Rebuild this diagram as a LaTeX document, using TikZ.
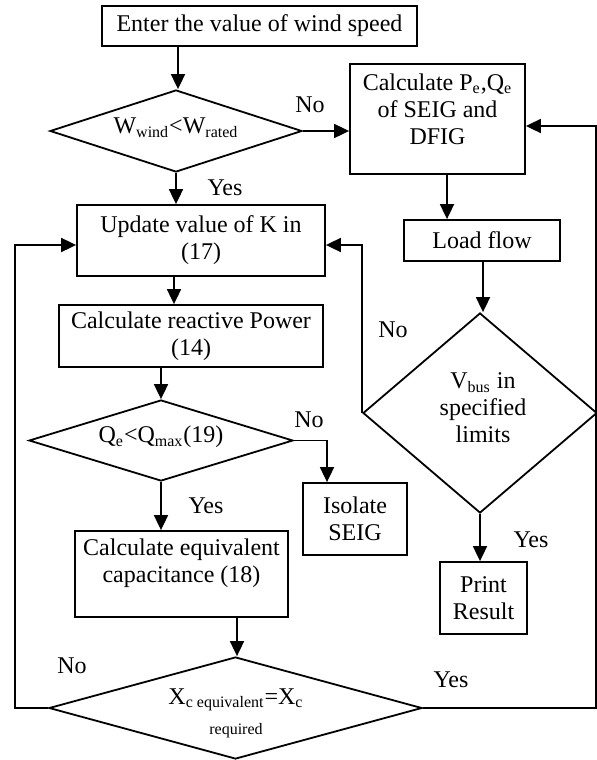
\documentclass[tikz,border=0pt]{standalone}
\usepackage{fontspec}
\setmainfont{Liberation Serif}
\usetikzlibrary{arrows.meta,shapes.geometric}
\begin{document}
\begin{tikzpicture}[x=0.5pt,y=-0.5pt,
  line width=0.9pt,
  box/.style={draw, rectangle, inner sep=0pt, align=center, font=\fontsize{12}{13.5}\selectfont},
  dia/.style={draw, diamond, inner sep=0pt},
  txt/.style={align=center, font=\fontsize{12}{13.5}\selectfont, inner sep=0pt},
  small/.style={align=center, font=\fontsize{8}{9}\selectfont, inner sep=0pt},
  arr/.style={-{Triangle[length=7.5pt,width=7pt]}}
]
\useasboundingbox (0,0) rectangle (597,760);

% boxes
\node[box, minimum width=157.5pt, minimum height=20pt] (top) at (259.5,26) {Enter the value of wind speed};
\node[box, minimum width=87.5pt, minimum height=55pt] (calcpe) at (437.5,119) {};
\node[txt] (calcpetxt) at (437.5,109) {Calculate P\textsubscript{e},Q\textsubscript{e}\\of SEIG and\\DFIG};
\node[box, minimum width=78pt, minimum height=20.5pt] (load) at (482,240.5) {Load flow};
\node[box, minimum width=124pt, minimum height=35.5pt] (upd) at (201,240.5) {Update value of K in\\(17)};
\node[box, minimum width=132pt, minimum height=31pt] (react) at (191,336) {Calculate reactive Power\\(14)};
\node[box, minimum width=52pt, minimum height=36pt] (iso) at (355,519) {Isolate\\SEIG};
\node[box, minimum width=106.5pt, minimum height=43pt] (equiv) at (181.5,574) {};
\node[txt] (equivtxt) at (181.5,563) {Calculate equivalent\\capacitance (18)};
\node[box, minimum width=43.5pt, minimum height=36pt] (print) at (483.5,598) {Print\\Result};

% diamonds
\node[dia, minimum width=126pt, minimum height=41pt] (d1) at (176,131) {};
\node[txt] (d1txt) at (176,128) {W\textsubscript{wind}<W\textsubscript{rated}};
\node[dia, minimum width=132pt, minimum height=40.5pt] (dq) at (161,440.5) {};
\node[txt] (dqtxt) at (161,437) {Q\textsubscript{e}<Q\textsubscript{max}(19)};
\node[dia, minimum width=117pt, minimum height=100pt] (dv) at (480,413) {};
\node[txt] (dvtxt) at (483,408) {V\textsubscript{bus} in\\specified\\limits};
\node[dia, minimum width=186.5pt, minimum height=51pt] (dx) at (235.5,708) {};
\node[txt] (dxtxt) at (236,700) {X\textsubscript{c equivalent}=X\textsubscript{c}};
\node[small] (dxtxt2) at (236,731) {required};

% connector helpers
\coordinate (lft) at (15,245);
\coordinate (rgt) at (596,126);
\coordinate (vup) at (363,245);

% connectors
\draw[arr] (top.south -| 178,0) -- (178,0 |- d1.north);
\draw[arr] (d1.east) -- (d1.east -| calcpe.west);
\draw[arr] (d1.south) -- (d1.south |- upd.north);
\draw[arr] (447,0 |- calcpe.south) -- (447,0 |- load.north);
\draw[arr] (483,0 |- load.south) -- (483,0 |- dv.north);
\draw[arr] (174,0 |- upd.south) -- (174,0 |- react.north);
\draw[arr] (161,0 |- react.south) -- (dq.north);
\draw[arr] (dq.east) -- (327,0 |- dq.east) -- (327,0 |- iso.north);
\draw[arr] (dq.south) -- (dq.south |- equiv.north);
\draw[arr] (237,0 |- equiv.south) -- (237,0 |- dx.north);
\draw[arr] (dv.west) -- (dv.west |- vup) -- (vup -| upd.east);
\draw[arr] (dv.south) -- (dv.south |- print.north);
\draw[arr] (dx.west) -- (dx.west -| lft) -- (lft) -- (lft -| upd.west);
\draw[arr] (dx.east) -- (dx.east -| rgt) -- (rgt) -- (rgt -| calcpe.east);

% labels
\node[txt] (l1) at (310,105) {No};
\node[txt] (l2) at (225,188) {Yes};
\node[txt] (l3) at (393,330) {No};
\node[txt] (l4) at (309,420) {No};
\node[txt] (l5) at (206,506) {Yes};
\node[txt] (l6) at (531,540) {Yes};
\node[txt] (l7) at (72,666) {No};
\node[txt] (l8) at (451,680) {Yes};
\end{tikzpicture}
\end{document}
